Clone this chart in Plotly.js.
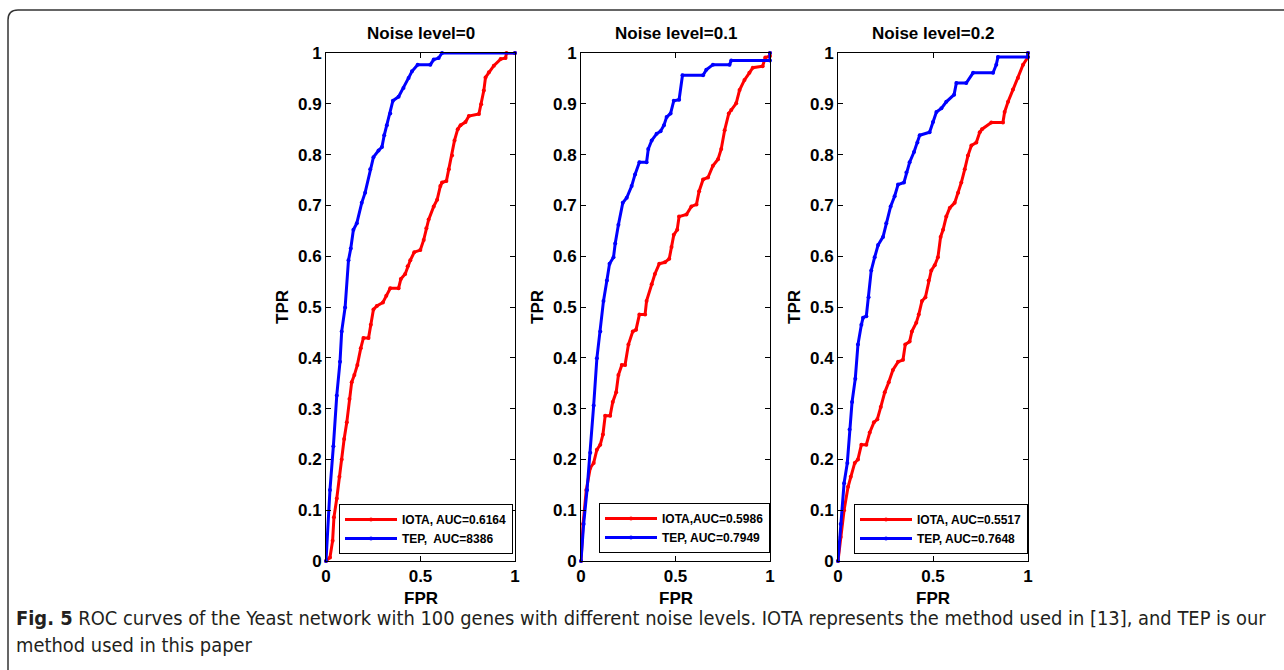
<!DOCTYPE html>
<html>
<head>
<meta charset="utf-8">
<script src="https://cdn.plot.ly/plotly-3.0.1.min.js"></script>
<style>html,body{margin:0;padding:0;background:#fff;}#chart{width:1284px;height:670px;}</style>
</head>
<body>
<div id="chart"></div>
<script>
// ---- Data ----
const panelTitles = ["Noise level=0", "Noise level=0.1", "Noise level=0.2"];
const iotaNames = ["IOTA, AUC=0.6164", "IOTA,AUC=0.5986", "IOTA, AUC=0.5517"];
const tepNames = ["TEP,&nbsp; AUC=8386", "TEP, AUC=0.7949", "TEP, AUC=0.7648"];
const xTicks = [0, 0.5, 1];
const xTickLabels = ["0", "0.5", "1"];
const yTicks = [0, 0.1, 0.2, 0.3, 0.4, 0.5, 0.6, 0.7, 0.8, 0.9, 1];
const yTickLabels = ["0", "0.1", "0.2", "0.3", "0.4", "0.5", "0.6", "0.7", "0.8", "0.9", "1"];

// Noise level = 0
const fpr0Tep = [0,0.021,0.039,0.057,0.074,0.083,0.101,0.119,0.131,0.145,0.163,0.189,0.207,0.234,0.251,0.278,0.296,0.308,0.322,0.34,0.354,0.384,0.41,0.437,0.455,0.485,0.552,0.57,0.596,0.614,1];
const tpr0Tep = [0,0.14,0.226,0.326,0.392,0.452,0.499,0.592,0.615,0.652,0.665,0.705,0.725,0.771,0.795,0.808,0.815,0.838,0.858,0.881,0.906,0.914,0.931,0.951,0.964,0.977,0.977,0.987,0.99,1,1];
const fpr0Iota = [0,0.021,0.035,0.042,0.057,0.071,0.083,0.096,0.11,0.124,0.136,0.15,0.166,0.184,0.198,0.225,0.237,0.251,0.269,0.301,0.319,0.34,0.384,0.396,0.419,0.432,0.446,0.467,0.499,0.517,0.531,0.543,0.57,0.588,0.605,0.614,0.637,0.65,0.667,0.68,0.697,0.712,0.738,0.756,0.809,0.821,0.835,0.844,0.862,0.888,0.924,0.95,0.955,1];
const tpr0Iota = [0,0.007,0.04,0.086,0.123,0.166,0.2,0.24,0.273,0.319,0.352,0.366,0.386,0.419,0.439,0.439,0.465,0.495,0.502,0.509,0.522,0.537,0.537,0.555,0.565,0.58,0.592,0.608,0.612,0.632,0.655,0.672,0.698,0.711,0.738,0.745,0.748,0.771,0.798,0.828,0.85,0.858,0.864,0.876,0.88,0.899,0.926,0.952,0.962,0.975,0.988,0.99,1,1];

// Noise level = 0.1
const fpr1Tep = [0,0.014,0.032,0.049,0.067,0.084,0.102,0.119,0.137,0.151,0.172,0.181,0.198,0.221,0.242,0.268,0.286,0.309,0.347,0.356,0.374,0.4,0.421,0.439,0.453,0.474,0.491,0.519,0.537,0.646,0.663,0.698,0.786,0.795,1,1];
const tpr1Tep = [0,0.073,0.14,0.213,0.306,0.399,0.452,0.512,0.552,0.585,0.598,0.625,0.662,0.705,0.715,0.738,0.761,0.785,0.785,0.811,0.828,0.841,0.846,0.858,0.874,0.881,0.906,0.908,0.956,0.956,0.967,0.977,0.977,0.985,0.985,1];
const fpr1Iota = [0,0.011,0.028,0.049,0.067,0.084,0.102,0.116,0.128,0.154,0.168,0.186,0.198,0.216,0.233,0.251,0.274,0.291,0.309,0.339,0.347,0.374,0.391,0.414,0.444,0.467,0.479,0.491,0.509,0.519,0.558,0.584,0.611,0.625,0.646,0.672,0.698,0.725,0.742,0.76,0.782,0.795,0.821,0.839,0.865,0.891,0.909,0.961,0.975,1,1];
const tpr1Iota = [0,0.073,0.14,0.183,0.193,0.219,0.229,0.249,0.286,0.286,0.313,0.332,0.366,0.386,0.386,0.426,0.452,0.455,0.485,0.485,0.512,0.545,0.565,0.585,0.588,0.595,0.618,0.642,0.652,0.678,0.682,0.698,0.702,0.728,0.751,0.755,0.778,0.791,0.811,0.848,0.881,0.888,0.901,0.927,0.947,0.961,0.971,0.974,0.991,0.994,1];

// Noise level = 0.2
const fpr2Tep = [0,0.014,0.032,0.049,0.061,0.074,0.091,0.105,0.123,0.132,0.149,0.161,0.175,0.193,0.211,0.237,0.254,0.277,0.298,0.316,0.347,0.36,0.377,0.4,0.418,0.43,0.482,0.5,0.518,0.544,0.57,0.611,0.623,0.675,0.711,0.816,0.833,0.842,1,1];
const tpr2Tep = [0,0.073,0.153,0.193,0.259,0.313,0.359,0.426,0.465,0.479,0.482,0.519,0.572,0.598,0.622,0.638,0.665,0.698,0.718,0.741,0.745,0.765,0.785,0.805,0.824,0.838,0.844,0.864,0.884,0.891,0.904,0.918,0.941,0.941,0.961,0.961,0.977,0.992,0.992,1];
const fpr2Iota = [0,0.014,0.032,0.053,0.067,0.088,0.105,0.123,0.149,0.167,0.189,0.207,0.225,0.246,0.267,0.289,0.316,0.342,0.354,0.377,0.389,0.412,0.425,0.442,0.46,0.477,0.491,0.509,0.526,0.54,0.553,0.57,0.588,0.614,0.632,0.649,0.667,0.684,0.702,0.728,0.746,0.758,0.807,0.868,0.877,0.895,0.921,0.947,0.974,1,1];
const tpr2Iota = [0,0.047,0.1,0.146,0.166,0.193,0.2,0.229,0.229,0.253,0.273,0.279,0.303,0.332,0.352,0.376,0.392,0.396,0.426,0.432,0.452,0.469,0.485,0.512,0.519,0.552,0.572,0.582,0.598,0.638,0.652,0.678,0.695,0.705,0.725,0.745,0.771,0.798,0.818,0.824,0.844,0.85,0.863,0.863,0.884,0.904,0.928,0.951,0.977,0.992,1];

const fprIota = [fpr0Iota, fpr1Iota, fpr2Iota];
const tprIota = [tpr0Iota, tpr1Iota, tpr2Iota];
const fprTep = [fpr0Tep, fpr1Tep, fpr2Tep];
const tprTep = [tpr0Tep, tpr1Tep, tpr2Tep];

// ---- Layout geometry (pixels) ----
const W = 1284, H = 670;
const plotLeft = [326, 581, 838];
const plotRight = [515, 770, 1028];
const plotTop = 53, plotBottom = 561;
const legendRight = [513, 770, 1028];
const legendBottom = [554, 553, 554];

const px = v => v / W;
const py = v => 1 - v / H;

const boldFont = {family: "Liberation Sans, Arial, Helvetica, sans-serif", size: 17, color: "#000", weight: "bold"};

const traces = [];
const layout = {
  width: W, height: H,
  margin: {l: 0, r: 0, t: 0, b: 0},
  paper_bgcolor: "#fff",
  plot_bgcolor: "#fff",
  showlegend: true,
  annotations: [],
  shapes: []
};

for (let i = 0; i < 3; i++) {
  const sfx = i === 0 ? "" : String(i + 1);
  const legName = i === 0 ? "legend" : "legend" + (i + 1);
  traces.push({
    x: fprIota[i], y: tprIota[i], type: "scatter", mode: "lines+markers",
    name: iotaNames[i], xaxis: "x" + sfx, yaxis: "y" + sfx, legend: legName,
    line: {color: "#ff0000", width: 3}, marker: {color: "#ff0000", size: 4},
    cliponaxis: false
  });
  traces.push({
    x: fprTep[i], y: tprTep[i], type: "scatter", mode: "lines+markers",
    name: tepNames[i], xaxis: "x" + sfx, yaxis: "y" + sfx, legend: legName,
    line: {color: "#0000ff", width: 3}, marker: {color: "#0000ff", size: 4},
    cliponaxis: false
  });
  layout["xaxis" + sfx] = {
    domain: [px(plotLeft[i]), px(plotRight[i])],
    anchor: "y" + sfx,
    range: [0, 1], fixedrange: true,
    tickmode: "array", tickvals: xTicks, ticktext: xTickLabels,
    ticks: "inside", ticklen: 5, tickcolor: "#000", tickwidth: 1,
    showline: true, linecolor: "#000", linewidth: 1, mirror: "ticks",
    showgrid: false, zeroline: false,
    tickfont: boldFont
  };
  layout["yaxis" + sfx] = {
    domain: [py(plotBottom), py(plotTop)],
    anchor: "x" + sfx,
    range: [0, 1], fixedrange: true,
    tickmode: "array", tickvals: yTicks, ticktext: yTickLabels,
    ticks: "inside", ticklen: 5, tickcolor: "#000", tickwidth: 1,
    showline: true, linecolor: "#000", linewidth: 1, mirror: "ticks",
    showgrid: false, zeroline: false,
    tickfont: boldFont
  };
  layout[legName] = {
    x: px(legendRight[i]), y: py(legendBottom[i]),
    xanchor: "right", yanchor: "bottom",
    xref: "paper", yref: "paper",
    bgcolor: "#fff", bordercolor: "#000", borderwidth: 1,
    font: {family: "Liberation Sans, Arial, Helvetica, sans-serif", size: 12, color: "#000", weight: "bold"},
    itemwidth: 52, tracegroupgap: 0,
    traceorder: "normal"
  };
  const cx = px((plotLeft[i] + plotRight[i]) / 2);
  layout.annotations.push({
    text: panelTitles[i], x: cx, y: py(33), xref: "paper", yref: "paper",
    xanchor: "center", yanchor: "middle", showarrow: false, font: boldFont
  });
  layout.annotations.push({
    text: "FPR", x: cx, y: py(598), xref: "paper", yref: "paper",
    xanchor: "center", yanchor: "middle", showarrow: false, font: boldFont
  });
  layout.annotations.push({
    text: "TPR", x: px(plotLeft[i] - 44), y: py((plotTop + plotBottom) / 2), xref: "paper", yref: "paper",
    xanchor: "center", yanchor: "middle", showarrow: false, textangle: -90, font: boldFont
  });
}

// Caption
const captionFont = {family: "DejaVu Sans Condensed, Liberation Sans, sans-serif", size: 19.9, color: "#231f20"};
layout.annotations.push({
  text: "<b>Fig. 5</b> ROC curves of the Yeast network with 100 genes with different noise levels. IOTA represents the method used in [13], and TEP is our",
  x: px(14), y: py(618), xref: "paper", yref: "paper", xanchor: "left", yanchor: "middle",
  showarrow: false, font: captionFont
});
layout.annotations.push({
  text: "method used in this paper",
  x: px(14), y: py(645), xref: "paper", yref: "paper", xanchor: "left", yanchor: "middle",
  showarrow: false, font: captionFont
});

// Frame with rounded top-left corner
layout.shapes.push({
  type: "path", xref: "paper", yref: "paper",
  path: `M ${px(8)} 0 L ${px(8)} ${py(20)} Q ${px(8)} ${py(10)} ${px(18)} ${py(10)} L ${px(1290)} ${py(10)}`,
  line: {color: "#333", width: 1.5}
});

Plotly.newPlot("chart", traces, layout, {staticPlot: true, displayModeBar: false});
</script>
</body>
</html>
